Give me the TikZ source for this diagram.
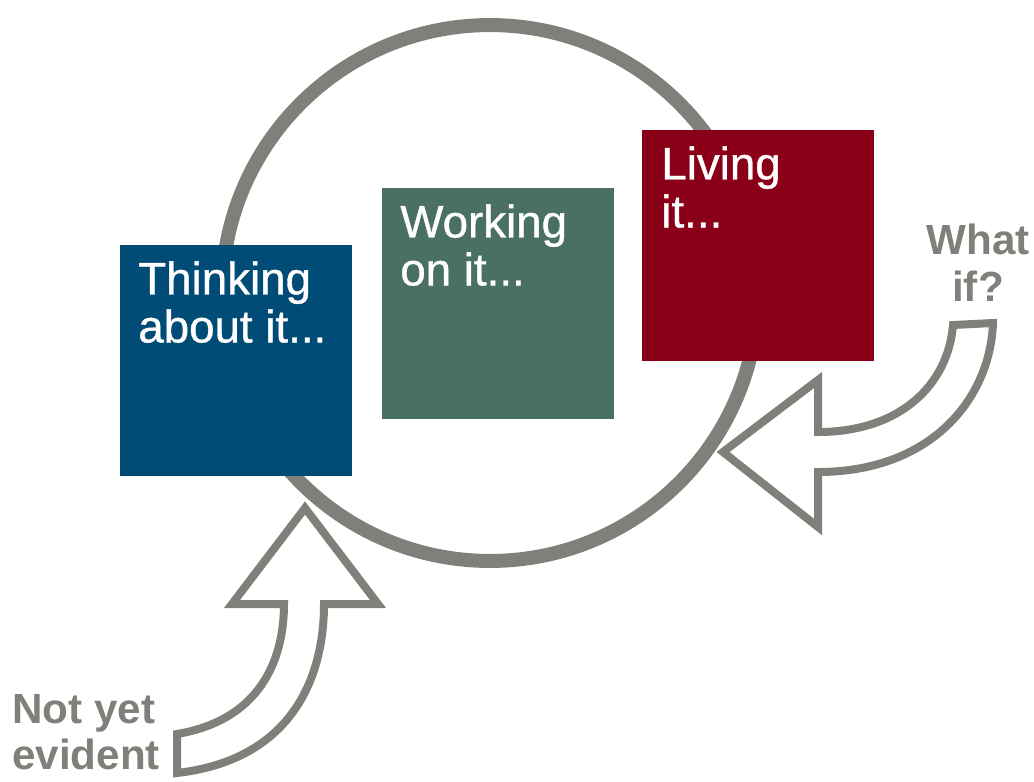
\documentclass[tikz,border=0pt]{standalone}
\usepackage{fontspec}
\setmainfont{Liberation Sans}
\newfontfamily\stagefont{Liberation Sans}[FakeBold=0.8]
\usetikzlibrary{positioning}

\begin{document}
\begin{tikzpicture}[
        x=0.02cm, y=-0.02cm,
        stage/.style={rectangle, anchor=north west, inner sep=0pt, minimum width=4.64cm, minimum height=4.62cm},
        stagetext/.style={anchor=north west, inner sep=0pt, align=left, text=white, font=\stagefont\fontsize{26}{27.3}\selectfont},
        sidetext/.style={inner sep=0pt, text=ringgray, font=\bfseries\fontsize{24}{26.5}\selectfont},
        ring/.style={draw=ringgray, line width=0.28cm},
        bigarrow/.style={draw=ringgray, fill=white, line width=0.16cm, line join=miter},
    ]
        \definecolor{ringgray}{RGB}{128,127,122}
        \definecolor{thinkblue}{RGB}{0,76,118}
        \definecolor{workgreen}{RGB}{74,112,98}
        \definecolor{livered}{RGB}{138,0,24}

        \useasboundingbox (0,0) rectangle (1034,781);

        % Cycle
        \draw[ring] (490,293) circle (5.36cm);

        % Stages
        \node[stage, fill=thinkblue] (think) at (120,245) {};
        \node[stage, fill=workgreen] (work) at (382,188) {};
        \node[stage, fill=livered] (live) at (642,130) {};

        \node[stagetext, below right=0.32cm and 0.36cm of think.north west] (thinktext) {Thinking\\about it...};
        \node[stagetext, below right=0.32cm and 0.36cm of work.north west] (worktext) {Working\\on it...};
        \node[stagetext, below right=0.32cm and 0.38cm of live.north west] (livetext) {Living\\it...};

        % Arrows in
        \draw[bigarrow] (305,508) -- (378,604) -- (324,604)
            .. controls (324,680) and (290,760) .. (177,773) -- (177,734)
            .. controls (260,720) and (284,660) .. (284,604) -- (232,604) -- cycle;
        \draw[bigarrow] (723,452) -- (818,380) -- (818,432)
            .. controls (900,432) and (948,385) .. (953,325) -- (993,323)
            .. controls (990,400) and (930,472) .. (818,472) -- (818,527) -- cycle;

        % Labels
        \node[sidetext, anchor=north, align=center] (whatif) at (978,224) {What\\if?};
        \node[sidetext, anchor=north west, align=left] (notyet) at (12,694) {Not yet\\evident};
    \end{tikzpicture}
\end{document}
